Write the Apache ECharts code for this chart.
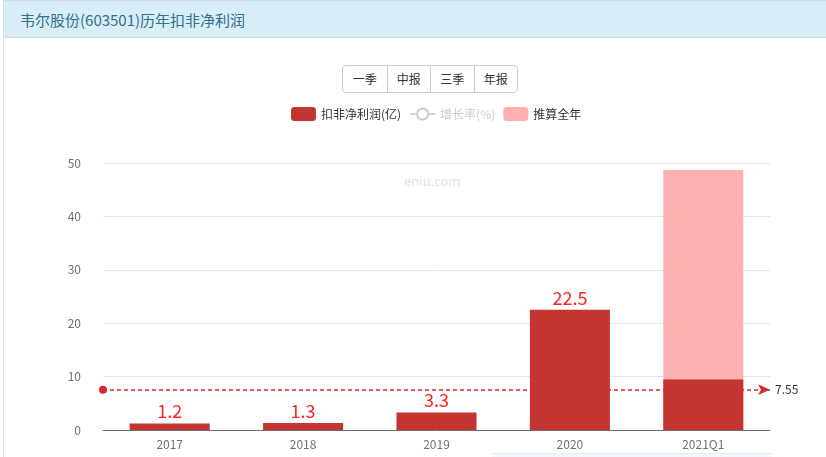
<!DOCTYPE html>
<html>
<head>
<meta charset="utf-8">
<script src="https://cdn.jsdelivr.net/npm/echarts@6/dist/echarts.min.js"></script>
<style>
html,body{margin:0;padding:0;background:#fff;width:826px;height:457px;overflow:hidden;font-family:"Noto Sans CJK SC","Noto Sans",sans-serif;}
#panel{position:absolute;left:3px;top:0;width:840px;height:470px;border-left:1px solid #d6e9f3;}
#head{position:absolute;left:3px;top:0;width:840px;height:38px;background:#d9edf7;border:1px solid #c6e2ef;box-sizing:border-box;}
#head span{position:absolute;left:16px;top:8px;font-size:15px;color:#31708f;}
#btns{position:absolute;left:342px;top:65px;height:28px;border:1px solid #ccc;border-radius:4px;display:flex;box-sizing:border-box;background:#fff;z-index:2;}
#btns div{width:43.5px;height:26px;line-height:26px;text-align:center;font-size:12px;color:#333;border-left:1px solid #ccc;box-sizing:border-box;}
#btns div:first-child{border-left:none;}
#chart{position:absolute;left:0;top:0;width:826px;height:457px;}
#bottom{position:absolute;left:492px;top:453px;width:280px;height:6px;background:#f3f7fd;border-top:1px solid #e3ebf8;}
</style>
</head>
<body>
<div id="panel"></div>
<div id="head"><span>韦尔股份(603501)历年扣非净利润</span></div>
<div id="chart"></div>
<div id="btns"><div>一季</div><div>中报</div><div>三季</div><div>年报</div></div>
<div id="bottom"></div>
<script>
var categories = ['2017', '2018', '2019', '2020', '2021Q1'];
var profitValues = [1.2, 1.3, 3.3, 22.5, 9.45];
var growthValues = [];
var estimateValues = [null, null, null, null, 48.7];
var yTicks = {min: 0, max: 50, interval: 10};

var chart = echarts.init(document.getElementById('chart'));
var profitData = profitValues.map(function (v, i) {
  return i === profitValues.length - 1 ? {value: v, label: {show: false}} : v;
});
chart.setOption({
  animation: false,
  textStyle: {fontFamily: '"Noto Sans CJK SC","Noto Sans",sans-serif'},
  graphic: [{
    type: 'text', left: 404, top: 176,
    style: {text: 'eniu.com', fill: '#e2e2e2', fontSize: 13, fontFamily: 'Noto Sans'}
  }],
  legend: {
    left: 286, top: 102,
    itemWidth: 25, itemHeight: 14, itemGap: 8,
    textStyle: {fontSize: 12, color: '#333'},
    inactiveColor: '#ccc',
    data: ['扣非净利润(亿)', '增长率(%)', '推算全年'],
    selected: {'增长率(%)': false}
  },
  grid: {left: 103, right: 56, top: 163, bottom: 27},
  xAxis: {
    type: 'category', data: categories,
    axisLine: {lineStyle: {color: '#6e7079'}},
    axisTick: {alignWithLabel: true, lineStyle: {color: '#6e7079'}},
    axisLabel: {color: '#6e7079', fontSize: 12, margin: 8}
  },
  yAxis: [{
    type: 'value', min: yTicks.min, max: yTicks.max, interval: yTicks.interval,
    axisLabel: {color: '#6e7079', fontSize: 12, margin: 22},
    splitLine: {lineStyle: {color: '#e0e6f1'}}
  }, {
    type: 'value', show: false
  }],
  series: [{
    name: '推算全年', type: 'bar', data: estimateValues,
    barWidth: '60%', barGap: '-100%', z: 1,
    itemStyle: {color: '#ffb0b0'}
  }, {
    name: '扣非净利润(亿)', type: 'bar', data: profitData,
    barWidth: '60%', barGap: '-100%', z: 2,
    itemStyle: {color: '#c23531'},
    label: {show: true, position: 'top', color: '#ff2222', fontSize: 18, distance: 3},
    markLine: {
      symbol: ['circle', 'arrow'], symbolSize: [8, 12],
      itemStyle: {color: '#d42a2a'},
      lineStyle: {color: '#d42a2a', type: [4, 3], width: 1.5, opacity: 1},
      label: {color: '#333', fontSize: 12, position: 'end'},
      data: [{type: 'average', name: '平均值', lineStyle: {color: '#d42a2a'}}]
    }
  }, {
    name: '增长率(%)', type: 'line', yAxisIndex: 1, data: growthValues,
    symbol: 'emptyCircle', itemStyle: {color: '#aaa'}
  }]
});
</script>
</body>
</html>
